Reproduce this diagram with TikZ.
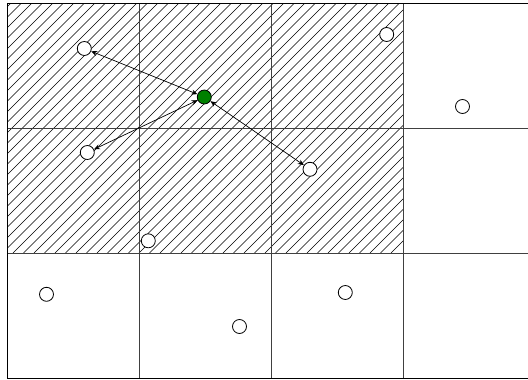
\documentclass[tikz,border=0pt]{standalone}
\usetikzlibrary{arrows.meta}
\begin{document}
\begin{tikzpicture}[x=1pt,y=-1pt,
  pt/.style={circle,draw=black,line width=0.8pt,fill=white,minimum size=14pt,inner sep=0pt},
  gpt/.style={pt,fill=green!50!black,draw=black},
  link/.style={line width=0.7pt,{Stealth[length=6pt,width=5pt]}-{Stealth[length=6pt,width=5pt]}},
  gridline/.style={line width=0.9pt,draw=black!75},
  hatch/.style={line width=0.6pt,black}]
\useasboundingbox (0,0) rectangle (528,380);
\fill[white] (0,0) rectangle (528,380);
% hatching
\begin{scope}
\clip (8,4) rectangle (403,253);
\foreach \k in {0,...,62}{
  \draw[hatch] (\k*10.5-260,253) -- ++(260,-260);
}
\end{scope}
% grid
\foreach \x in {139,271,403}{\draw[gridline] (\x,4) -- (\x,379);}
\foreach \y in {128,253}{\draw[gridline] (8,\y) -- (528,\y);}
\draw[line width=1.2pt,black] (528,3.6) -- (7.6,3.6) -- (7.6,378.8) -- (528,378.8);
% points
\node[pt] (a) at (84.3,48.5) {};
\node[pt] (b) at (386.7,34.5) {};
\node[pt] (c) at (462.5,106.5) {};
\node[pt] (d) at (87.3,152.5) {};
\node[pt] (e) at (310,169.3) {};
\node[pt] (f) at (148.3,240.8) {};
\node[pt] (g) at (46.5,294.3) {};
\node[pt] (h) at (345.3,292.5) {};
\node[pt] (i) at (239.5,326.5) {};
\node[gpt] (s) at (204.3,97) {};
\draw[link] (s) -- (a);
\draw[link] (s) -- (d);
\draw[link] (s) -- (e);
\end{tikzpicture}
\end{document}
